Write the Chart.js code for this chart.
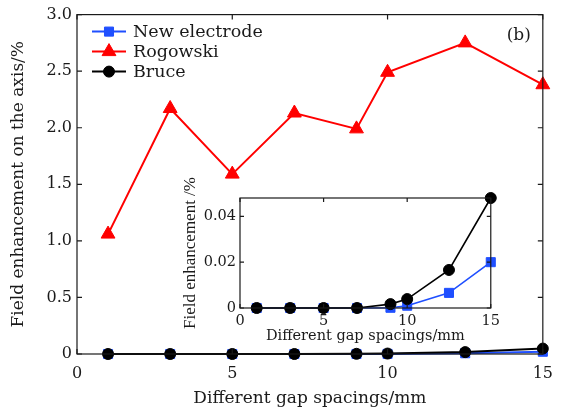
<!DOCTYPE html>
<html>
<head>
<meta charset="utf-8">
<script src="https://cdn.jsdelivr.net/npm/chart.js@4.4.1/dist/chart.umd.min.js"></script>
<style>
  body { margin: 0; background: #fff; }
  #wrap { position: relative; width: 563px; height: 409px; }
  #insetBox { position: absolute; left: 175px; top: 170px; width: 330px; height: 175px; }
</style>
</head>
<body>
<div id="wrap">
  <canvas id="main" width="563" height="409"></canvas>
  <div id="insetBox"><canvas id="inset" width="330" height="175"></canvas></div>
</div>
<script>
// data
const gaps = [1, 3, 5, 7, 9, 10, 12.5, 15];
const newElectrode = [0, 0, 0, 0, 0.0001, 0.001, 0.0066, 0.020];
const rogowski = [1.06, 2.17, 1.59, 2.13, 1.99, 2.49, 2.75, 2.38];
const bruce = [0, 0, 0, 0, 0.0017, 0.0039, 0.0166, 0.048];

const xTicks = [0, 5, 10, 15];
const mainYTicks = [0, 0.5, 1.0, 1.5, 2.0, 2.5, 3.0];
const mainYLabels = ['0', '0.5', '1.0', '1.5', '2.0', '2.5', '3.0'];
const insetYTicks = [0, 0.02, 0.04];
const insetYLabels = ['0', '0.02', '0.04'];

const serif = 'DejaVu Serif';
const ink = '#1a1a1a';
const blue = '#1f4fff';
const red = '#ff0000';

function pts(ys) {
  return gaps.map((x, i) => ({ x: x, y: ys[i] }));
}

// frame + inward ticks on all four sides
const framePlugin = {
  id: 'frame',
  afterDraw(chart) {
    const { ctx, chartArea: a, scales } = chart;
    const len = chart.canvas.id === 'main' ? 5 : 4;
    ctx.save();
    ctx.strokeStyle = ink;
    ctx.lineWidth = 1.2;
    ctx.strokeRect(a.left, a.top, a.right - a.left, a.bottom - a.top);
    ctx.beginPath();
    scales.x.ticks.forEach(t => {
      const px = scales.x.getPixelForValue(t.value);
      ctx.moveTo(px, a.bottom); ctx.lineTo(px, a.bottom - len);
      ctx.moveTo(px, a.top); ctx.lineTo(px, a.top + len);
    });
    scales.y.ticks.forEach(t => {
      const py = scales.y.getPixelForValue(t.value);
      ctx.moveTo(a.left, py); ctx.lineTo(a.left + len, py);
      ctx.moveTo(a.right, py); ctx.lineTo(a.right - len, py);
    });
    ctx.stroke();
    ctx.restore();
  }
};

// legend in the upper left of the main plot, "(b)" at upper right
const legendPlugin = {
  id: 'boxLegend',
  afterDatasetsDraw(chart) {
    const { ctx, chartArea: a } = chart;
    ctx.save();
    chart.data.datasets.forEach((ds, i) => {
      const y = a.top + 17 + i * 20;
      const x0 = a.left + 15, x1 = a.left + 49;
      ctx.strokeStyle = ds.borderColor;
      ctx.lineWidth = 2;
      ctx.beginPath(); ctx.moveTo(x0, y); ctx.lineTo(x1, y); ctx.stroke();
      ctx.fillStyle = ds.pointBackgroundColor;
      ctx.strokeStyle = ds.pointBorderColor;
      ctx.lineWidth = 1;
      Chart.helpers.drawPoint(ctx, {
        pointStyle: ds.pointStyle, radius: ds.pointRadius, borderWidth: 1
      }, (x0 + x1) / 2, y);
      ctx.fillStyle = ink;
      ctx.font = '17.5px "' + serif + '"';
      ctx.textBaseline = 'middle';
      ctx.fillText(ds.label, a.left + 56, y + 1);
    });
    ctx.fillStyle = ink;
    ctx.font = '17px "' + serif + '"';
    ctx.textAlign = 'right';
    ctx.textBaseline = 'middle';
    ctx.fillText('(b)', a.right - 12, a.top + 21);
    ctx.restore();
  }
};

function series(label, ys, color, style, radius, order, width) {
  return {
    label: label,
    data: pts(ys),
    borderColor: color,
    backgroundColor: color,
    pointBackgroundColor: color,
    pointBorderColor: color,
    pointStyle: style,
    pointRadius: radius,
    pointBorderWidth: 1,
    borderWidth: width,
    tension: 0,
    order: order,
    clip: false
  };
}

Chart.defaults.font.family = serif;
Chart.defaults.color = ink;
Chart.defaults.animation = false;

new Chart(document.getElementById('main'), {
  type: 'line',
  data: {
    datasets: [
      series('New electrode', newElectrode, blue, 'rect', 6.4, 3, 2),
      series('Rogowski', rogowski, red, 'triangle', 8, 2, 2),
      series('Bruce', bruce, '#000', 'circle', 5.5, 1, 2)
    ]
  },
  options: {
    responsive: false,
    layout: { padding: { top: 12, right: 20, left: 0, bottom: 0 } },
    plugins: { legend: { display: false }, tooltip: { enabled: false } },
    scales: {
      x: {
        type: 'linear', min: 0, max: 15,
        afterBuildTicks: s => { s.ticks = xTicks.map(v => ({ value: v })); },
        afterFit: s => { s.height = 55; },
        grid: { display: false, drawTicks: false },
        border: { display: false },
        ticks: { font: { size: 16 }, padding: 10, maxRotation: 0, callback: v => String(v) },
        title: { display: true, text: 'Different gap spacings/mm', font: { size: 17 }, padding: { top: 1, bottom: 0 } }
      },
      y: {
        type: 'linear', min: 0, max: 3,
        afterBuildTicks: s => { s.ticks = mainYTicks.map(v => ({ value: v })); },
        afterFit: s => { s.width = 77; },
        grid: { display: false, drawTicks: false },
        border: { display: false },
        ticks: { font: { size: 16 }, padding: 5, callback: (v, i) => mainYLabels[i] },
        title: { display: true, text: 'Field enhancement on the axis/%', font: { size: 17 }, padding: { top: 8, bottom: 0 } }
      }
    }
  },
  plugins: [framePlugin, legendPlugin]
});

new Chart(document.getElementById('inset'), {
  type: 'line',
  data: {
    datasets: [
      series('New electrode', newElectrode, blue, 'rect', 6.4, 2, 1.6),
      series('Bruce', bruce, '#000', 'circle', 5.5, 1, 1.6)
    ]
  },
  options: {
    responsive: false,
    layout: { padding: { top: 28, right: 12, left: 0, bottom: 0 } },
    plugins: { legend: { display: false }, tooltip: { enabled: false } },
    scales: {
      x: {
        type: 'linear', min: 0, max: 15,
        afterBuildTicks: s => { s.ticks = xTicks.map(v => ({ value: v })); },
        afterFit: s => { s.height = 37; },
        grid: { display: false, drawTicks: false },
        border: { display: false },
        ticks: { font: { size: 14.5 }, padding: 5, maxRotation: 0, callback: v => String(v) },
        title: { display: true, text: 'Different gap spacings/mm', font: { size: 14.5 }, padding: { top: 2, bottom: 0 } }
      },
      y: {
        type: 'linear', min: 0, max: 0.048,
        afterBuildTicks: s => { s.ticks = insetYTicks.map(v => ({ value: v })); },
        afterFit: s => { s.width = 65; },
        grid: { display: false, drawTicks: false },
        border: { display: false },
        ticks: { font: { size: 14.5 }, padding: 4, callback: (v, i) => insetYLabels[i] },
        title: { display: true, text: 'Field enhancement /%', font: { family: 'Liberation Serif', size: 17 }, padding: { top: 5, bottom: 0 } }
      }
    }
  },
  plugins: [framePlugin]
});
</script>
</body>
</html>
